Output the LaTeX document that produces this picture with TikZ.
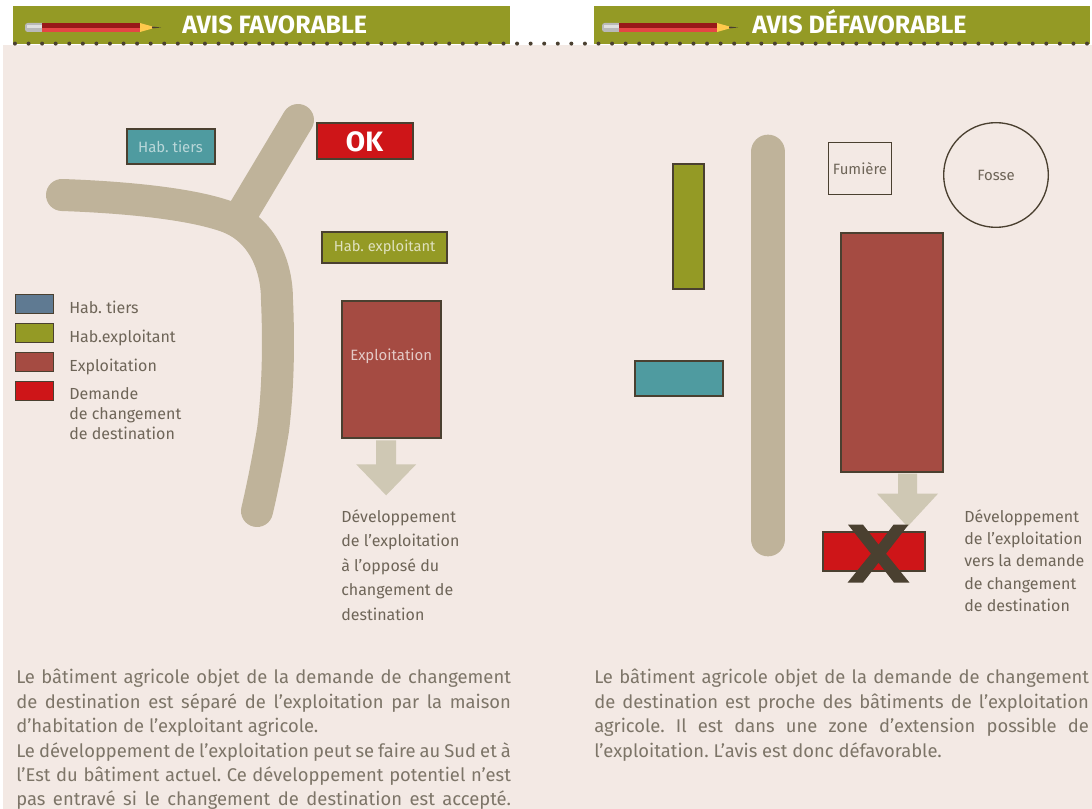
\documentclass[tikz,border=0pt]{standalone}
\usepackage{fontspec}
\setmainfont{Fira Sans}[Ligatures=NoCommon]
\frenchspacing
\usetikzlibrary{calc}
\definecolor{bgc}{HTML}{F3E9E4}
\definecolor{oliv}{HTML}{949A25}
\definecolor{teal2}{HTML}{4F9BA0}
\definecolor{blu}{HTML}{5F7A92}
\definecolor{brn}{HTML}{A54B42}
\definecolor{rd}{HTML}{CE1518}
\definecolor{edg}{HTML}{4A4030}
\definecolor{road}{HTML}{BFB39A}
\definecolor{arr}{HTML}{CFC8B4}
\definecolor{txt}{HTML}{6E6558}
\definecolor{ptxt}{HTML}{7D7568}
\tikzset{
 x=0.75pt,y=-0.75pt,
 box/.style={draw=edg,line width=1.5pt,inner sep=0pt,anchor=north west,font=\fontsize{11.2}{13}\selectfont},
 leg/.style={draw=edg,line width=0.9pt,inner sep=0pt,anchor=north west,minimum width=28.5pt,minimum height=14.2pt},
 lab/.style={anchor=north west,inner sep=0pt,text=txt,font=\fontsize{12}{15}\selectfont,align=left},
 devlab/.style={anchor=north west,inner sep=0pt,text=txt,font=\fontsize{12}{18.4}\selectfont,align=left},
 devlabb/.style={devlab,font=\fontsize{12}{16.75}\selectfont},
 para/.style={anchor=north west,inner sep=0pt,text=ptxt,font=\fontsize{13.8}{18.3}\selectfont,align=left},
 rdway/.style={draw=road,line width=24pt,line cap=round,line join=round},
 head/.style={anchor=base west,inner sep=0pt,text=white,font=\fontsize{18.8}{20}\selectfont\bfseries},
}
\newcommand{\jl}[1]{\makebox[371pt][s]{#1}}
\newcommand{\pencil}[1]{%
 \fill[gray!55,rounded corners=2] (#1+25,23) rectangle (#1+46,32);
 \fill[gray!25] (#1+27,25) rectangle (#1+42,28);
 \fill[red!55!black!90!white] (#1+42,23) rectangle (#1+140,28);
 \fill[red!70!white!90!black] (#1+42,28) rectangle (#1+140,32);
 \fill[orange!60!yellow!70!white] (#1+140,23) -- (#1+156,27.5) -- (#1+140,32) -- cycle;
 \fill[edg] (#1+152,26.5) -- (#1+161,27.5) -- (#1+152,28.5) -- cycle;
}
\begin{document}
\begin{tikzpicture}
\useasboundingbox (0,0) rectangle (1092,809);
\fill[white] (0,0) rectangle (1092,809);
\fill[bgc] (3,45) rectangle (1092,809);
\fill[oliv] (13,6) rectangle (510,44);
\fill[oliv] (594,6) rectangle (1090,44);
\pencil{0}
\pencil{577}
\foreach \k in {0,...,79} \fill[edg] ({1087-13.57*\k},43.6) circle (2);
\node[head] (h1) at (182,33.5) {AVIS FAVORABLE};
\node[head] (h2) at (752,33.5) {AVIS DÉFAVORABLE};

% left diagram
\draw[rdway] (62,195) .. controls (120,197) and (190,203) .. (228,217) .. controls (262,230) and (277,265) .. (277,300) .. controls (279,345) and (278,390) .. (273,430) .. controls (268,460) and (262,490) .. (257,511);
\draw[rdway] (298,120) -- (243,212);
\node[box,fill=teal2,minimum width=66pt,minimum height=26pt,text=white!60!teal2] (t1) at (125.5,128) {Hab. tiers};
\node[box,fill=rd,minimum width=72pt,minimum height=27pt,text=white,font=\fontsize{21}{24}\selectfont\bfseries] (ok) at (315.5,122.5) {OK};
\node[box,fill=oliv,minimum width=94pt,minimum height=23pt,text=white!70!oliv,font=\fontsize{11}{13}\selectfont] (e1) at (321,231) {Hab. exploitant};
\node[box,fill=brn,minimum width=74.5pt,minimum height=103pt,text=white!70!brn] (x1) at (340.5,300) {\raisebox{22.5pt}{Exploitation}};
\coordinate (a1) at ($(x1.south)+(-5,0)$);
\fill[arr] ($(a1)+(-10,1)$) -- ++(0,24) -- ++(-20,0) -- ++(30,31) -- ++(30,-31) -- ++(-20,0) -- ++(0,-24) -- cycle;
\node[devlab] (d1) at (341,509) {Développement\\de l’exploitation\\à l’opposé du\\changement de\\destination};

% legend
\node[leg,fill=blu] (l1) at (15,294) {};
\node[leg,fill=oliv] (l2) at (15,323) {};
\node[leg,fill=brn] (l3) at (15,352) {};
\node[leg,fill=rd] (l4) at (15,381) {};
\node[lab] (lt1) at (69,300.5) {Hab. tiers};
\node[lab] (lt2) at (69,329.5) {Hab.exploitant};
\node[lab] (lt3) at (69,358.5) {Exploitation};
\node[lab] (lt4) at (69,387.5) {Demande\\de changement\\de destination};

% right diagram
\draw[rdway,line width=26pt] (768,152) -- (768,539);
\node[box,fill=oliv,minimum width=23pt,minimum height=94pt] (e2) at (672,163) {};
\node[box,fill=teal2,minimum width=66pt,minimum height=26.5pt] (t2) at (633.5,360) {};
\node[box,line width=1pt,minimum width=47pt,minimum height=39pt,text=txt] (fu) at (828,142) {Fumière};
\node[draw=edg,line width=1pt,circle,minimum size=78.5pt,inner sep=0pt,text=txt,font=\fontsize{11.2}{13}\selectfont] (fo) at (996,175) {Fosse};
\node[box,fill=brn,minimum width=76.5pt,minimum height=179pt] (x2) at (840,232) {};
\coordinate (a2) at ($(x2.south)+(15.5,0)$);
\fill[arr] ($(a2)+(-9.5,1)$) -- ++(0,20) -- ++(-21,0) -- ++(30.5,33) -- ++(30.5,-33) -- ++(-21,0) -- ++(0,-20) -- cycle;
\node[box,fill=rd,minimum width=76.5pt,minimum height=29.5pt] (r2) at (821.5,531) {};
\fill[edg] ($(r2.center)+(-25.5,-27)$) -- ++(15,0) -- ++(15.5,20) -- ++(15,-20) -- ++(15,0) -- ++(-22.5,29) -- ++(23.5,29) -- ++(-15.5,0) -- ++(-15.5,-20) -- ++(-15.5,20) -- ++(-15.5,0) -- ++(23.5,-29) -- cycle;
\node[devlabb] (d2) at (964,509) {Développement\\de l’exploitation\\vers la demande\\de changement\\de destination};

% paragraphs
\node[para] (p1) at (16,669) {\jl{Le bâtiment agricole objet de la demande de changement}\\\jl{de destination est séparé de l’exploitation par la maison}\\d’habitation de l’exploitant agricole.\\\jl{Le développement de l’exploitation peut se faire au Sud et à}\\\jl{l’Est du bâtiment actuel. Ce développement potentiel n’est}\\\jl{pas entravé si le changement de destination est accepté.}};
\node[para] (p2) at (594,669) {\jl{Le bâtiment agricole objet de la demande de changement}\\\jl{de destination est proche des bâtiments de l’exploitation}\\\jl{agricole. Il est dans une zone d’extension possible de}\\l’exploitation. L’avis est donc défavorable.};
\end{tikzpicture}
\end{document}
